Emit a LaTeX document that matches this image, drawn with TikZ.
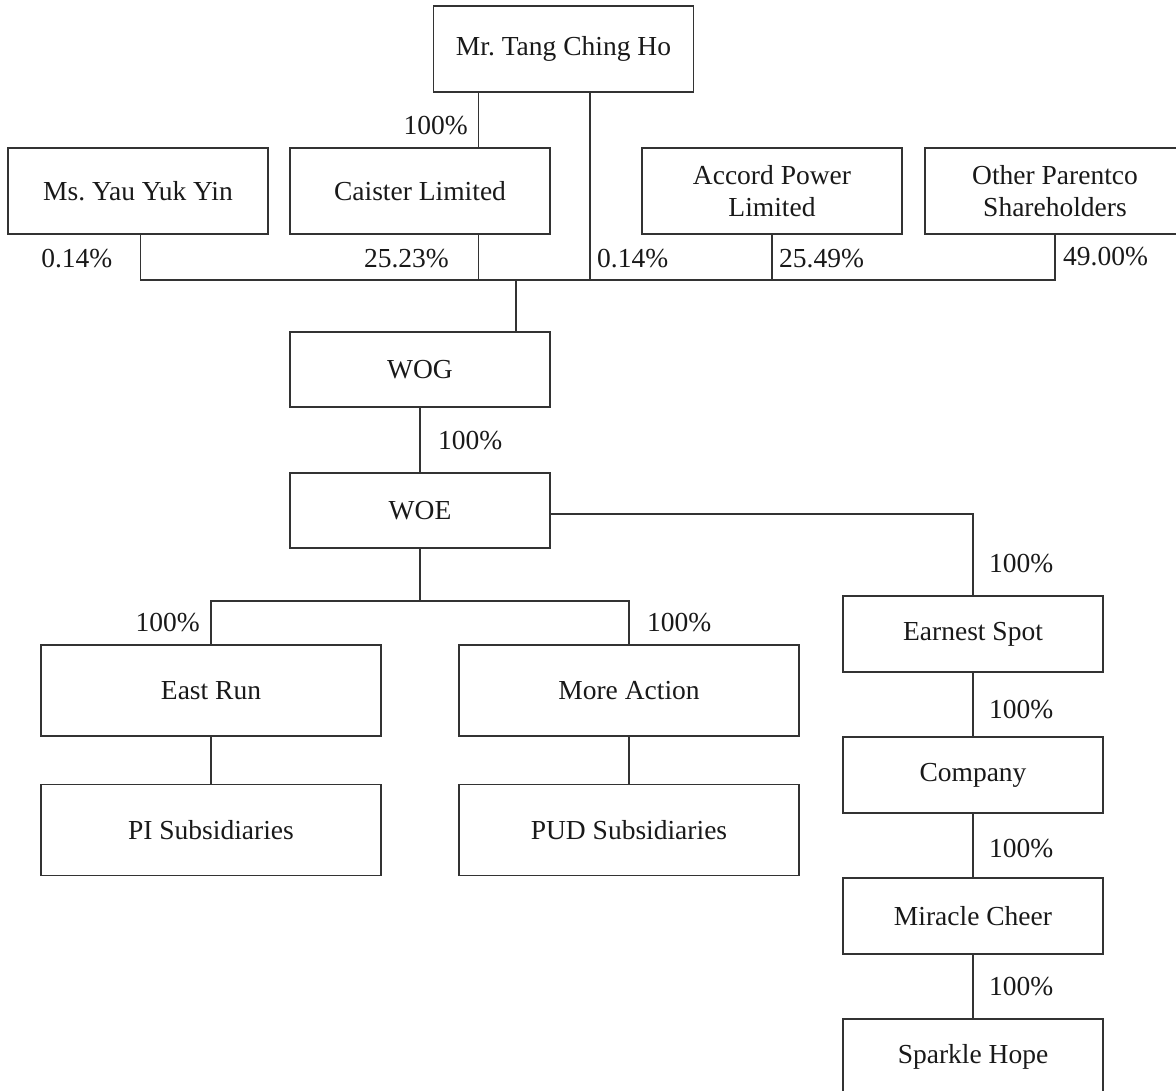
\documentclass[tikz,border=0pt]{standalone}
\usepackage{fontspec}
\setmainfont{Liberation Serif}
\frenchspacing
\begin{document}
\begin{tikzpicture}[x=1pt,y=-1pt,
  firm/.style={draw=black!80, line width=1.2pt, minimum width=260pt, minimum height=#1, inner sep=0pt, align=center, text=black!90, font=\fontsize{27.5}{32}\selectfont},
  firm/.default=86pt,
  wide/.style={minimum width=340pt},
  pct/.style={inner sep=0pt, text=black!90, font=\fontsize{27.5}{32}\selectfont},
  link/.style={draw=black!80, line width=1.2pt}]
\useasboundingbox (0,0) rectangle (1176,1091);
\clip (0,0) rectangle (1176,1091);
% shareholders
\node[firm] (tang) at (563.5,49) {Mr. Tang Ching Ho};
\node[firm] (yau) at (138,191) {Ms. Yau Yuk Yin};
\node[firm] (caister) at (420,191) {Caister Limited};
\node[firm] (accord) at (772,191) {Accord Power\\Limited};
\node[firm] (other) at (1055,191) {Other Parentco\\Shareholders};
% group
\node[firm=75pt] (wog) at (420,369.5) {WOG};
\node[firm=75pt] (woe) at (420,510.5) {WOE};
\node[firm=91pt, wide] (eastrun) at (211,690.5) {East Run};
\node[firm=91pt, wide] (moreaction) at (629,690.5) {More Action};
\node[firm=91pt, wide] (pisub) at (211,830) {PI Subsidiaries};
\node[firm=91pt, wide] (pudsub) at (629,830) {PUD Subsidiaries};
\foreach \name/\txt [count=\i from 0] in {earnest/Earnest Spot, company/Company, miracle/Miracle Cheer, sparkle/Sparkle Hope}
  \node[firm=76pt] (\name) at (973,{634+141*\i}) {\txt};
% connectors
\coordinate (bus) at (516,280);
\coordinate (split) at (420,601);
\draw[link] ([xshift=2.5pt]yau.south) |- (bus);
\draw[link] (other.south) |- (bus);
\draw[link] ([xshift=58.5pt]caister.north) -- ([xshift=58.5pt]caister.north |- tang.south);
\draw[link] ([xshift=58.5pt]caister.south) -- ([xshift=58.5pt]caister.south |- bus);
\draw[link] ([xshift=26.5pt]tang.south) -- ([xshift=26.5pt]tang.south |- bus);
\draw[link] (accord.south) -- (accord.south |- bus);
\draw[link] (bus) -- (bus |- wog.north);
\draw[link] (wog) -- (woe);
\draw[link] (woe) -- (split);
\draw[link] (eastrun.north) |- (split) -| (moreaction.north);
\draw[link] (eastrun) -- (pisub);
\draw[link] (moreaction) -- (pudsub);
\draw[link] ([yshift=-3.5pt]woe.east) -| (earnest.north);
\draw[link] (earnest) -- (company) -- (miracle) -- (sparkle);
% percentages
\node[pct, anchor=east] (ptang) at (468,126) {100\%};
\node[pct, anchor=east] (pyau) at (112.5,259) {0.14\%};
\node[pct, anchor=east] (pcaister) at (449,259) {25.23\%};
\node[pct, anchor=west] (ptangdir) at (597,259) {0.14\%};
\node[pct, anchor=west] (paccord) at (779,259) {25.49\%};
\node[pct, anchor=west] (pother) at (1063,257) {49.00\%};
\node[pct, anchor=west] (pwoe) at (438,441) {100\%};
\node[pct, anchor=east] (peastrun) at (200,623) {100\%};
\node[pct, anchor=west] (pmore) at (647,623) {100\%};
\foreach \y [count=\i] in {564,710,849,987}
  \node[pct, anchor=west] (pchain\i) at (989,\y) {100\%};
\end{tikzpicture}
\end{document}
